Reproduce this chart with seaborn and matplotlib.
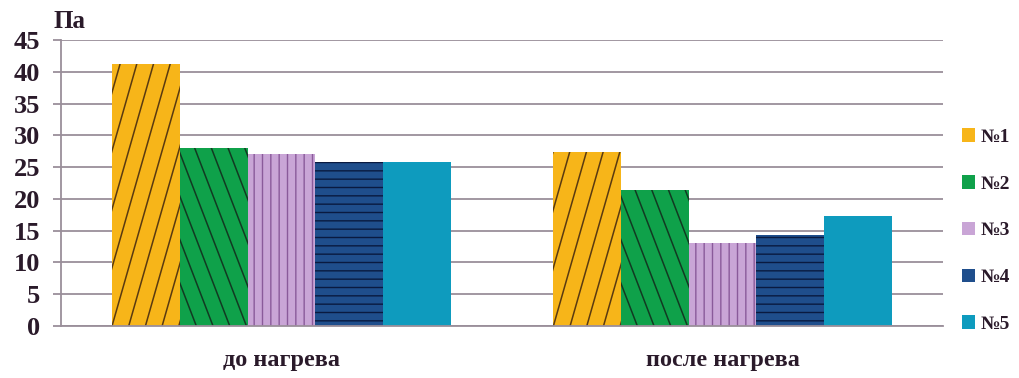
import matplotlib
matplotlib.use("Agg")
import matplotlib.pyplot as plt
import matplotlib.patches as mpatches
from matplotlib.lines import Line2D
from matplotlib.transforms import IdentityTransform
import numpy as np
import seaborn as sns
import pandas as pd

categories = ["до нагрева", "после нагрева"]
samples = ["№1", "№2", "№3", "№4", "№5"]
values_n1 = [41.3, 27.4]
values_n2 = [28.0, 21.4]
values_n3 = [27.0, 13.0]
values_n4 = [25.8, 14.3]
values_n5 = [25.8, 17.3]
y_ticks = [0, 5, 10, 15, 20, 25, 30, 35, 40, 45]
y_unit = "Па"

colors = ["#F7B519", "#0FA14A", "#C9A5D6", "#1F4E8C", "#0E9BBE"]
hatch_colors = ["#5A3A10", "#123A22", "#8A5A9A", "#0A1A40", "#0E9BBE"]
hatches = ["", "", "||", "--", ""]
# steep diagonal hatching: (direction, slope dy/dx, spacing px)
diag = [(1, 3.5, 16.7), (-1, 2.6, 16.7), None, None, None]

rows = []
for s, vals in zip(samples, [values_n1, values_n2, values_n3, values_n4, values_n5]):
    for c, v in zip(categories, vals):
        rows.append({"cond": c, "val": v, "sample": s})
df = pd.DataFrame(rows)

sns.set_theme(style="white")
plt.rcParams["font.family"] = ["Liberation Serif", "DejaVu Serif"]
plt.rcParams["hatch.linewidth"] = 1.0
text_color = "#2A1A2A"
grid_color = "#9A8F9A"

fig = plt.figure(figsize=(10.2, 3.78), dpi=100)
ax = fig.add_axes([0.0598, 0.1376, 0.8647, 0.7566])

sns.barplot(data=df, x="cond", y="val", hue="sample", hue_order=samples,
            order=categories, palette=colors, saturation=1, width=0.77,
            legend=False, ax=ax, errorbar=None)

ax.set_ylim(0, 45)
ax.set_xlim(-0.5, 1.5)

for cont, h, hc, dg in zip(ax.containers, hatches, hatch_colors, diag):
    for p in cont.patches:
        p.set_hatch(h)
        p.set_edgecolor(hc)
        p.set_linewidth(0)
        if dg is None:
            continue
        direction, slope, sp = dg
        bb = p.get_window_extent()
        h_px = bb.height
        run = h_px / slope
        xs = np.arange(bb.x0 - run - sp, bb.x1 + run + sp, sp)
        for xt in xs:
            if direction == 1:
                xb = xt - run
            else:
                xb = xt + run
            ln = Line2D([xt, xb], [bb.y1, bb.y0], color=hc, linewidth=1.1,
                        transform=IdentityTransform(), zorder=p.get_zorder() + 0.1)
            ax.add_line(ln)
            ln.set_clip_path(p)

ax.set_yticks(y_ticks)
ax.set_yticklabels([str(t) for t in y_ticks], fontsize=19, fontweight="bold", color=text_color)
ax.set_xlabel("")
ax.set_ylabel("")
ax.tick_params(axis="x", length=0, pad=17)
for lab in ax.get_xticklabels():
    lab.set_fontsize(17.5)
    lab.set_fontweight("bold")
    lab.set_color(text_color)
ax.tick_params(axis="y", length=6, width=1.3, color=grid_color, direction="out", pad=9, left=True)

ax.yaxis.grid(True, color=grid_color, linewidth=1.3)
ax.set_axisbelow(True)
for side in ["top", "right"]:
    ax.spines[side].set_visible(False)
for side in ["left", "bottom"]:
    ax.spines[side].set_color(grid_color)
    ax.spines[side].set_linewidth(1.3)

fig.text(0.052, 0.912, y_unit, fontsize=18, fontweight="bold", color=text_color,
         ha="left", va="bottom")

handles = [mpatches.Patch(facecolor=c, edgecolor="none", label=s) for c, s in zip(colors, samples)]
leg = fig.legend(handles=handles, loc="center left", bbox_to_anchor=(0.943, 0.39),
                 frameon=False, handlelength=0.7, handleheight=0.7, handletextpad=0.25,
                 borderpad=0, borderaxespad=0,
                 labelspacing=1.5, prop={"family": ["Liberation Serif", "DejaVu Serif"],
                                         "weight": "bold", "size": 14})
for t in leg.get_texts():
    t.set_color(text_color)

fig.savefig("out.png", dpi=100)
